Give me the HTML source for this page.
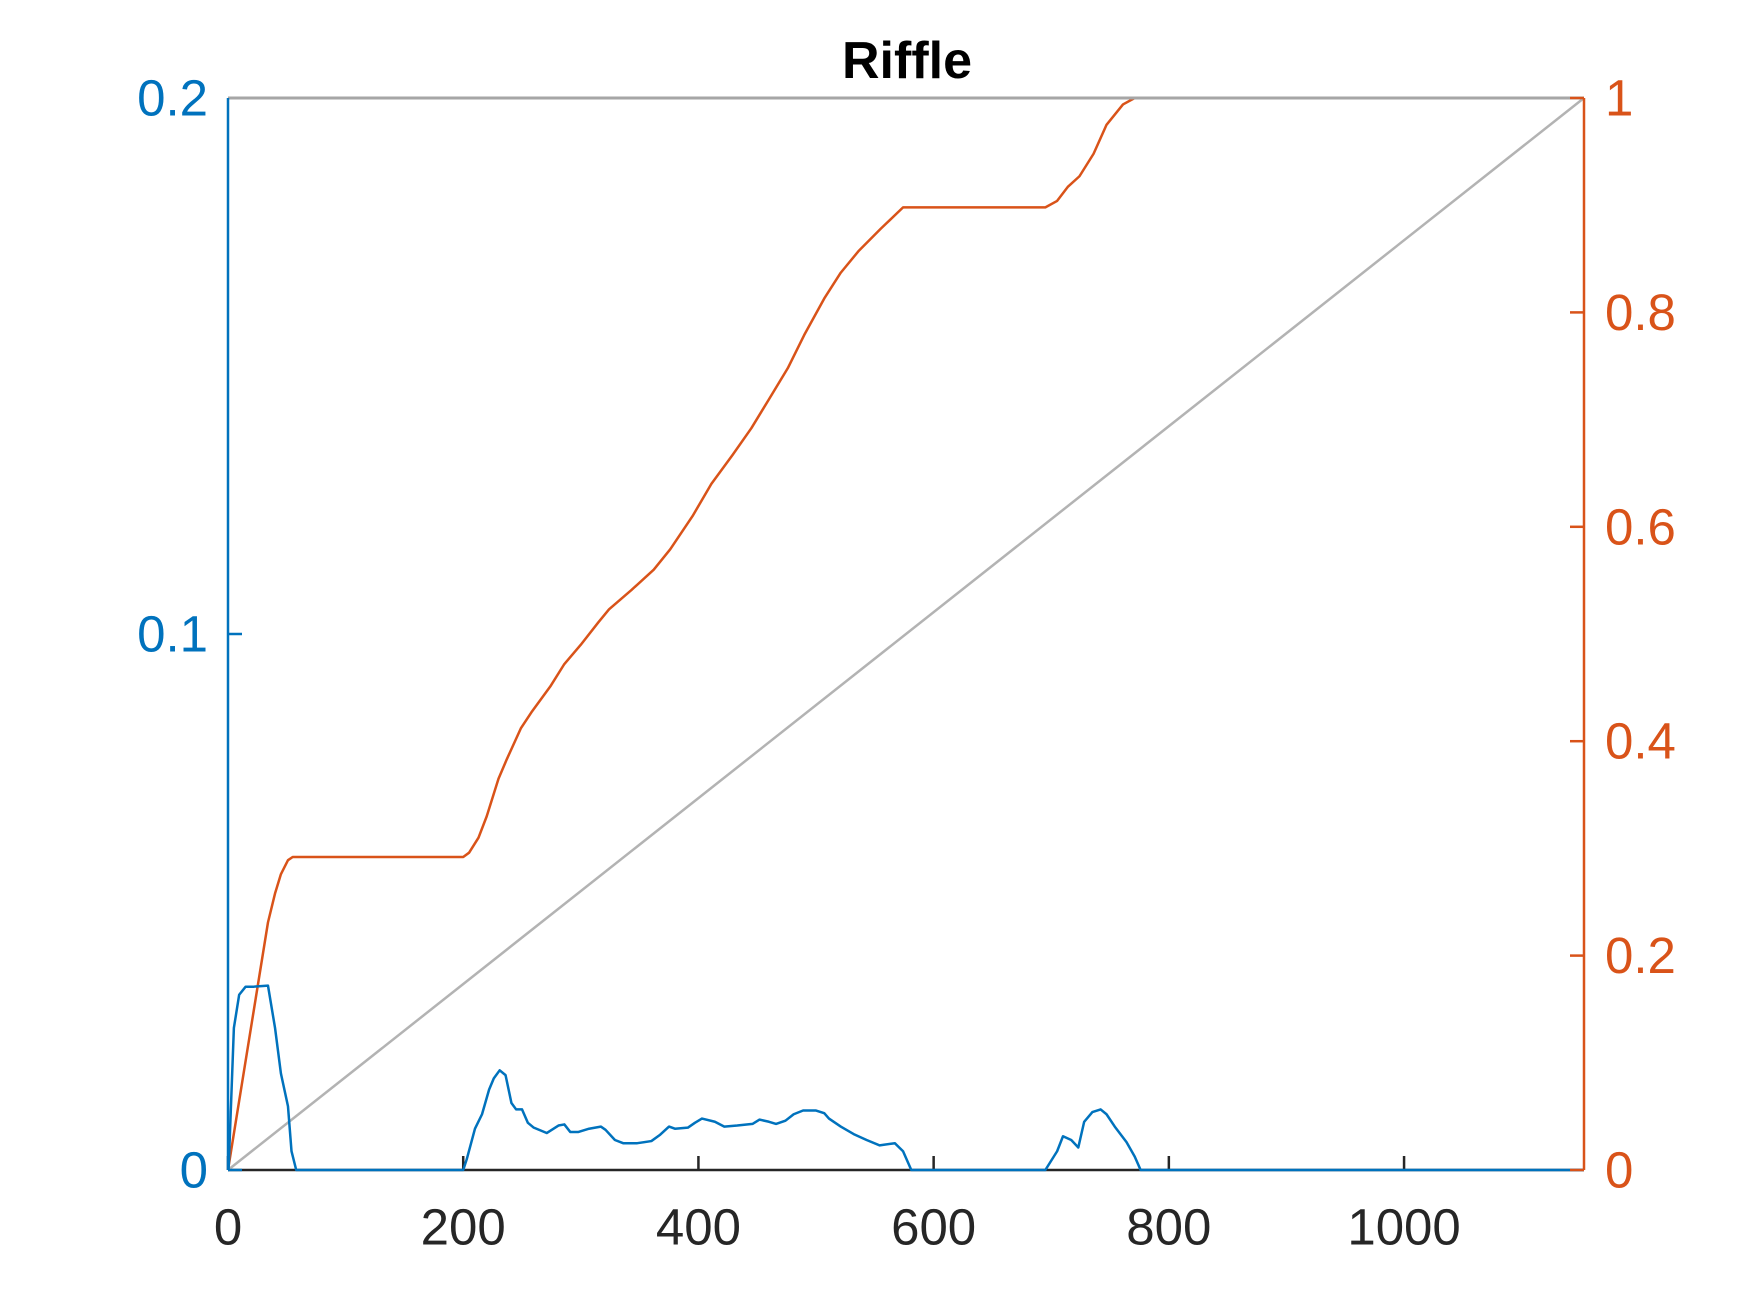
<!DOCTYPE html>
<html><head><meta charset="utf-8"><style>
html,body{margin:0;padding:0;background:#fff;}
svg{display:block;font-family:"Liberation Sans",Arial,sans-serif;}
</style></head><body>
<svg id="chart" width="1750" height="1313" viewBox="0 0 1750 1313" xmlns="http://www.w3.org/2000/svg">
<rect width="1750" height="1313" fill="#fff"/>
<g id="g"></g>
</svg>
<script>
const xTicks=[0,200,400,600,800,1000];
const leftTicks=[0,0.1,0.2];
const leftLabels=["0","0.1","0.2"];
const rightTicks=[0,0.2,0.4,0.6,0.8,1];
const rightLabels=["0","0.2","0.4","0.6","0.8","1"];
const xMax=1153;
const densX=[0,0.5,5,9.5,15,22,34,40,45,51,54,58,200,203,210,216,222,226,231,236,241,245,250,255,260,271,281,286,291,298,307,317,321,329,336,348,360,367,375,380,391,397,403,414,422,433,446,452,460,466,474,481,489,500,507,511,521,532,543,554,567,574,581,695,705,710,717,723,728,735,742,747,754,764,771,776,1153];
const densY=[0,0,0.0265,0.0327,0.0342,0.0342,0.0344,0.0265,0.018,0.0119,0.0035,0,0,0.002,0.0077,0.0104,0.015,0.0171,0.0186,0.0177,0.0125,0.0113,0.0113,0.0088,0.0079,0.0069,0.0083,0.0085,0.0071,0.0071,0.0077,0.0081,0.0075,0.0056,0.005,0.005,0.0054,0.0065,0.0081,0.0077,0.0079,0.0088,0.0096,0.009,0.0081,0.0083,0.0086,0.0094,0.009,0.0086,0.0092,0.0104,0.0111,0.0111,0.0106,0.0096,0.0081,0.0067,0.0056,0.0046,0.005,0.0035,0,0,0.0035,0.0063,0.0056,0.0042,0.009,0.0108,0.0113,0.0104,0.0081,0.0052,0.0025,0,0];
const cumX=[0,34,40,45,51,55,200,205,213,220,230,237,249,258,274,286,300,315,324,343,362,376,395,411,429,445,460,476,490,507,521,536,555,574,695,705,714,724,736,747,761,771,1153];
const cumY=[0,0.231,0.258,0.276,0.289,0.292,0.292,0.296,0.31,0.33,0.365,0.383,0.412,0.427,0.451,0.472,0.49,0.511,0.523,0.541,0.56,0.579,0.61,0.64,0.667,0.692,0.719,0.748,0.779,0.813,0.837,0.857,0.878,0.898,0.898,0.904,0.917,0.927,0.948,0.975,0.994,1,1];

const L=228,R=1584,T=98,B=1170;
const sx=v=>L+v/xMax*(R-L);
const syL=v=>B-v/0.2*(B-T);
const syR=v=>B-v*(B-T);
const NS="http://www.w3.org/2000/svg";
const g=document.getElementById('g');
function mk(tag,attrs,parent){const e=document.createElementNS(NS,tag);for(const k in attrs)e.setAttribute(k,attrs[k]);(parent||g).appendChild(e);return e;}
function txt(s,x,y,anchor,fill,size,weight){const t=mk('text',{x:x,y:y,'text-anchor':anchor,fill:fill,'font-size':size,'font-weight':weight||'normal','dominant-baseline':'central'});t.textContent=s;return t;}

let e=mk('line',{x1:L,y1:B,x2:R,y2:B,stroke:'#262626','stroke-width':2.5});


xTicks.forEach((v,i)=>{
  let t=mk('line',{x1:sx(v),y1:B,x2:sx(v),y2:B-14,stroke:'#262626','stroke-width':2.5});
  
  
  let l=txt(String(v),sx(v),B+57,'middle','#262626',51);
  
  
});
e=mk('line',{x1:sx(0),y1:syR(0),x2:sx(xMax),y2:syR(1),stroke:'#b3b3b3','stroke-width':2.5});


e=mk('polyline',{points:cumX.map((x,i)=>sx(x)+','+syR(cumY[i])).join(' '),fill:'none',stroke:'#D95319','stroke-width':2.5,'stroke-linejoin':'round'});


e=mk('polyline',{points:densX.map((x,i)=>sx(x)+','+syL(densY[i])).join(' '),fill:'none',stroke:'#0072BD','stroke-width':2.5,'stroke-linejoin':'round'});


e=mk('line',{x1:L,y1:T,x2:R,y2:T,stroke:'#a6a6a6','stroke-width':3});


e=mk('line',{x1:L,y1:B,x2:L,y2:T,stroke:'#0072BD','stroke-width':2.5});


leftTicks.forEach((v,i)=>{
  if(v<0.2){
  let t=mk('line',{x1:L,y1:syL(v),x2:L+14,y2:syL(v),stroke:'#0072BD','stroke-width':2.5});
  
  
  }
  let l=txt(leftLabels[i],L-20,syL(v),'end','#0072BD',51);
  
  
});
e=mk('line',{x1:R,y1:B,x2:R,y2:T,stroke:'#D95319','stroke-width':2.5});


rightTicks.forEach((v,i)=>{
  let t=mk('line',{x1:R,y1:syR(v),x2:R-14,y2:syR(v),stroke:'#D95319','stroke-width':2.5});
  
  
  let l=txt(rightLabels[i],R+21,syR(v),'start','#D95319',51);
  
  
});
e=txt('Riffle',907,61,'middle','#000',52,'bold');


</script>
</body></html>
